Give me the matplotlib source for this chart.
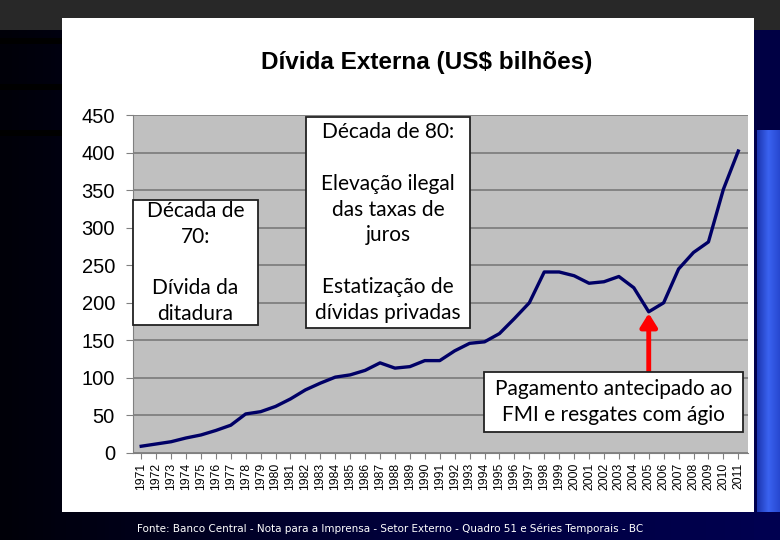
import matplotlib
matplotlib.use("Agg")
import matplotlib.pyplot as plt
import numpy as np
from matplotlib.patches import Rectangle

years = list(range(1971, 2012))
debt = [9, 12, 15, 20, 24, 30, 37, 52, 55, 62,
        72, 84, 93, 101, 104, 110, 120, 113, 115, 123,
        123, 136, 146, 148, 159, 179, 200, 241, 241, 236,
        226, 228, 235, 220, 188, 200, 245, 267, 281, 351,
        402]
yticks = [0, 50, 100, 150, 200, 250, 300, 350, 400, 450]

title = "Dívida Externa (US$ bilhões)"
box70 = "Década de\n70:\n\nDívida da\nditadura"
box80 = "Década de 80:\n\nElevação ilegal\ndas taxas de\njuros\n\nEstatização de\ndívidas privadas"
box_fmi = "Pagamento antecipado ao\nFMI e resgates com ágio"
footer = "Fonte: Banco Central - Nota para a Imprensa - Setor Externo - Quadro 51 e Séries Temporais - BC"

W, H = 780, 540
fig = plt.figure(figsize=(7.8, 5.4), dpi=100)
fig.patch.set_facecolor("#00003c")

def px(x0, y0, x1, y1, color, z=0, edge="none", lw=0):
    fig.patches.append(Rectangle((x0 / W, 1 - y1 / H), (x1 - x0) / W, (y1 - y0) / H,
                                 transform=fig.transFigure, facecolor=color,
                                 edgecolor=edge, linewidth=lw, zorder=z))

# slide background
grad = np.linspace(0, 1, 200).reshape(1, -1)
bg = fig.add_axes([0, 0, 1, 1], zorder=-5)
bg.imshow(grad, aspect="auto", cmap=matplotlib.colors.LinearSegmentedColormap.from_list(
    "bg", ["#000008", "#00003a", "#000050"]), extent=[0, 1, 0, 1])
bg.set_axis_off()
px(0, 0, 780, 30, "#282828", 1)
px(0, 38, 62, 44, "#000000", 1)
px(0, 84, 62, 90, "#000000", 1)
px(0, 130, 62, 136, "#000000", 1)
px(754, 30, 780, 130, "#000044", 1)
bar = fig.add_axes([757 / W, 1 - 540 / H, 23 / W, 410 / H], zorder=1)
bar.imshow(np.linspace(0, 1, 50).reshape(1, -1), aspect="auto",
           cmap=matplotlib.colors.LinearSegmentedColormap.from_list(
               "bar", ["#1c36b0", "#3a62f0", "#2748d0"]))
bar.set_axis_off()
px(754, 512, 780, 540, "#000050", 2)
px(62, 18, 754, 512, "#ffffff", 2)

fig.text(427 / W, 1 - 62 / H, title, ha="center", va="center", fontsize=17.5,
         fontweight="bold", family="Liberation Sans", zorder=5)
fig.text(390 / W, 1 - 529 / H, footer, ha="center", va="center", fontsize=7.5,
         color="white", family="DejaVu Sans", zorder=5)

ax = fig.add_axes([133 / W, 1 - 453 / H, 615 / W, 338 / H], zorder=3)
ax.set_facecolor("#c0c0c0")
ax.plot(years, debt, color="#000066", linewidth=2.4, zorder=3)
ax.set_xlim(1970.45, 2011.65)
ax.set_ylim(0, 450)
ax.set_yticks(yticks)
ax.set_xticks(years)
ax.set_xticklabels([str(y) for y in years], rotation=90, fontsize=8.8,
                   family="Liberation Sans")
ax.tick_params(axis="y", labelsize=14.5, length=5, color="#808080", pad=8)
for lab in ax.get_yticklabels():
    lab.set_family("Liberation Sans")
ax.tick_params(axis="x", length=4, color="#808080", pad=3)
ax.grid(axis="y", color="#7a7a7a", linewidth=1.2)
ax.set_axisbelow(True)
for s in ["top", "right"]:
    ax.spines[s].set_visible(False)
ax.spines["left"].set_color("#808080")
ax.spines["bottom"].set_color("#808080")

# annotation boxes (pixel layout)
boxes = [(box70, 133, 200, 258, 325), (box80, 306, 117, 470, 328),
         (box_fmi, 484, 372, 743, 432)]
for txt, x0, y0, x1, y1 in boxes:
    px(x0, y0, x1, y1, "white", 6, edge="#222222", lw=1.3)
    fig.text((x0 + x1) / 2 / W, 1 - (y0 + y1) / 2 / H, txt, ha="center", va="center",
             fontsize=15, family="Lato", linespacing=1.36, zorder=7)

ax.annotate("", xy=(2005, 186), xytext=(2005, 108),
            arrowprops=dict(arrowstyle="-|>,head_width=0.5,head_length=0.8",
                            color="#ff0000", lw=3.5, shrinkA=0, shrinkB=0), zorder=5)

fig.savefig("out.png", dpi=100)
